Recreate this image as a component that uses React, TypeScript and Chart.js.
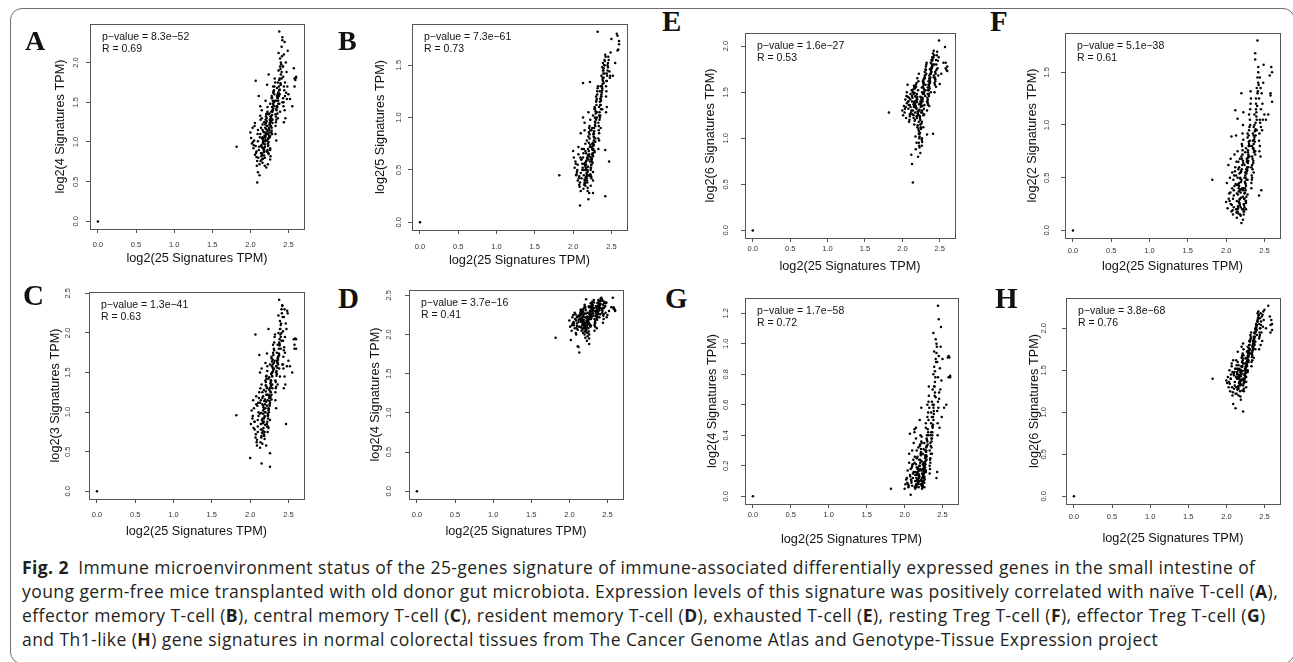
import React, { useEffect, useRef } from 'react';
import { Chart, registerables } from 'chart.js';

Chart.register(...registerables);

// Shared x values: log2(25 Signatures TPM), one per sample
const xValues = [
  0.0, 1.82,
  2.0, 2.02, 2.01, 2.04, 2.03, 2.06, 2.05, 2.07, 2.08, 2.06, 2.09, 2.08, 2.1, 2.07, 2.11, 2.09, 2.12, 2.1, 2.11, 2.13, 2.12, 2.1,
  2.14, 2.13, 2.15, 2.16, 2.14, 2.17, 2.15, 2.18, 2.16, 2.19, 2.17, 2.2, 2.18, 2.21, 2.19, 2.15, 2.2, 2.16, 2.22, 2.18, 2.21, 2.17, 2.19, 2.14, 2.2, 2.22, 2.16, 2.18, 2.21, 2.13, 2.19, 2.17, 2.2, 2.15, 2.22, 2.21,
  2.23, 2.24, 2.22, 2.25, 2.26, 2.23, 2.27, 2.24, 2.28, 2.25, 2.29, 2.26, 2.3, 2.27, 2.31, 2.28, 2.23, 2.29, 2.24, 2.3, 2.25, 2.31, 2.26, 2.32, 2.27, 2.22, 2.28, 2.24, 2.29, 2.26, 2.3, 2.23, 2.27, 2.31, 2.25, 2.28, 2.32, 2.26, 2.29, 2.24,
  2.33, 2.34, 2.35, 2.33, 2.36, 2.37, 2.34, 2.38, 2.35, 2.39, 2.36, 2.4, 2.37, 2.41, 2.38, 2.33, 2.39, 2.34, 2.4, 2.35, 2.42, 2.36, 2.38, 2.41, 2.37, 2.39, 2.34, 2.4, 2.36, 2.42, 2.38, 2.41,
  2.43, 2.44, 2.42, 2.45, 2.43, 2.46, 2.44, 2.47, 2.45, 2.48, 2.43, 2.49, 2.44, 2.5,
  2.52, 2.55, 2.57, 2.58, 2.58, 2.59, 2.6, 2.6,
  2.035, 2.075, 2.095, 2.055, 2.115, 2.085, 2.125, 2.045, 2.105, 2.135,
  2.155, 2.175, 2.195, 2.145, 2.215, 2.165, 2.185, 2.205, 2.135, 2.225, 2.175, 2.195, 2.155, 2.215, 2.165, 2.185, 2.205, 2.145, 2.225, 2.195, 2.175, 2.215, 2.155, 2.185, 2.205, 2.165, 2.225, 2.195,
  2.245, 2.265, 2.285, 2.235, 2.255, 2.275, 2.295, 2.315, 2.225, 2.305, 2.245, 2.265, 2.285, 2.255, 2.275, 2.235, 2.295, 2.315, 2.265, 2.285, 2.245, 2.305, 2.255, 2.275, 2.325, 2.235, 2.295, 2.265, 2.285, 2.255,
  2.345, 2.365, 2.385, 2.335, 2.355, 2.375, 2.395, 2.415, 2.345, 2.365, 2.385, 2.405, 2.355, 2.375, 2.335, 2.395, 2.365, 2.425, 2.385, 2.355,
  2.435, 2.455, 2.445, 2.465, 2.435, 2.475, 2.455, 2.485,
];

// A: naive T-cell, log2(4 Signatures TPM)
const yA = [
  0.0, 0.94,
  1.12, 0.98, 1.05, 0.92, 1.18, 0.84, 1.02, 0.95, 0.81, 1.24, 0.49, 0.88, 0.62, 1.77, 1.58, 0.76, 0.58, 1.15, 0.9, 1.33, 0.72, 1.01,
  0.95, 1.1, 0.78, 1.22, 0.86, 1.05, 1.3, 0.92, 1.15, 0.7, 1.02, 1.28, 0.83, 1.12, 0.97, 1.4, 1.08, 0.74, 1.2, 0.9, 1.35, 1.0, 0.8, 1.18, 1.52, 0.88, 1.06, 1.25, 0.68, 1.45, 0.94, 1.13, 1.03, 0.85, 1.72, 1.16,
  1.1, 1.35, 0.88, 1.22, 1.48, 0.95, 1.3, 1.05, 1.58, 1.15, 1.4, 0.78, 1.62, 1.26, 1.5, 1.18, 0.72, 1.38, 1.0, 1.7, 1.12, 1.45, 0.92, 1.8, 1.32, 1.02, 1.55, 0.85, 1.28, 1.08, 1.42, 0.98, 1.2, 1.65, 1.36, 1.14, 1.52, 0.9, 1.24, 1.85,
  1.35, 1.52, 1.68, 1.2, 1.75, 1.9, 1.42, 2.39, 1.58, 2.05, 1.3, 1.85, 1.62, 2.2, 1.48, 1.1, 1.95, 1.28, 1.72, 1.45, 2.32, 1.55, 1.65, 1.8, 2.12, 1.38, 1.02, 2.0, 1.6, 1.5, 1.78, 1.88,
  1.55, 1.7, 2.28, 1.4, 1.95, 1.3, 2.1, 1.62, 2.26, 1.54, 1.82, 2.15, 1.25, 1.6,
  1.54, 1.45, 1.93, 1.7, 1.8, 1.78, 1.82, 1.81,
  1.0, 0.86, 1.1, 1.2, 0.94, 0.7, 1.06, 0.96, 0.8, 1.28,
  1.04, 0.9, 1.18, 0.82, 1.26, 0.98, 1.08, 1.32, 0.76, 1.14, 0.92, 1.22, 0.84, 1.36, 1.0, 0.88, 1.1, 0.96, 1.44, 1.06, 0.87, 1.3, 0.93, 1.12, 1.24, 0.79, 1.38, 1.01,
  1.16, 1.32, 1.44, 0.96, 1.24, 1.38, 1.52, 1.6, 0.9, 1.46, 1.08, 1.2, 1.34, 1.28, 1.12, 1.04, 1.4, 1.7, 0.82, 1.56, 1.18, 1.64, 1.06, 1.3, 1.75, 0.86, 1.48, 1.26, 1.1, 1.22,
  1.45, 1.62, 1.8, 1.32, 1.56, 1.7, 1.92, 2.08, 1.4, 1.52, 1.66, 1.98, 1.36, 1.58, 1.25, 1.74, 1.48, 1.95, 1.6, 1.44,
  1.5, 1.75, 1.65, 2.0, 1.45, 1.88, 1.58, 1.7,
];

// B: effector memory T-cell, log2(5 Signatures TPM)
const yB = [
  0.0, 0.45,
  0.68, 0.52, 0.62, 0.45, 0.58, 0.4, 0.48, 0.65, 0.36, 0.55, 0.16, 0.44, 0.3, 0.72, 0.6, 0.38, 0.5, 0.85, 0.42, 1.33, 0.56, 0.47,
  0.5, 0.62, 0.38, 0.75, 0.45, 0.58, 0.88, 0.42, 0.68, 0.3, 0.55, 0.82, 0.4, 0.65, 0.48, 0.95, 0.6, 0.35, 0.72, 0.46, 0.9, 0.52, 0.33, 0.7, 1.05, 0.44, 0.57, 0.78, 0.28, 1.0, 0.5, 0.66, 0.22, 0.41, 1.34, 0.63,
  0.62, 0.88, 0.45, 0.75, 1.02, 0.52, 0.85, 0.6, 1.1, 0.7, 0.95, 0.4, 1.15, 0.78, 1.05, 0.68, 0.35, 0.92, 0.55, 1.2, 0.65, 1.0, 0.48, 1.28, 0.82, 0.58, 1.08, 0.42, 0.8, 0.63, 0.98, 0.5, 0.74, 1.18, 0.9, 0.67, 1.82, 0.28, 0.77, 0.6,
  0.95, 1.1, 1.25, 0.8, 1.3, 1.4, 1.02, 1.48, 1.15, 1.52, 0.9, 1.38, 1.2, 1.55, 1.08, 0.7, 1.45, 0.85, 1.33, 1.0, 0.25, 1.18, 1.28, 1.42, 1.22, 1.35, 0.78, 1.47, 1.12, 1.6, 1.26, 1.5,
  1.3, 1.42, 0.69, 1.5, 1.05, 1.58, 1.35, 0.58, 1.45, 1.38, 1.2, 1.62, 1.1, 1.75,
  1.4, 1.52, 1.8, 1.64, 1.78, 1.65, 1.73, 1.7,
  0.56, 0.42, 0.62, 0.5, 0.7, 0.34, 0.52, 0.46, 0.6, 0.66,
  0.54, 0.44, 0.7, 0.36, 0.8, 0.5, 0.62, 0.86, 0.32, 0.74, 0.47, 0.64, 0.4, 0.92, 0.52, 0.38, 0.68, 0.56, 0.98, 0.45, 0.59, 0.84, 0.37, 0.61, 0.76, 0.43, 0.88, 0.53,
  0.72, 0.84, 0.96, 0.55, 0.66, 0.9, 1.06, 1.22, 0.46, 1.12, 0.58, 0.76, 1.0, 0.64, 0.87, 0.52, 1.04, 1.25, 0.7, 0.93, 0.61, 1.16, 0.57, 0.81, 1.3, 0.44, 0.99, 0.73, 1.09, 0.69,
  1.05, 1.2, 1.36, 0.88, 1.12, 1.3, 1.45, 1.54, 0.98, 1.16, 1.32, 1.5, 1.02, 1.24, 0.92, 1.42, 1.08, 1.58, 1.38, 1.18,
  1.25, 1.48, 1.4, 1.55, 1.35, 1.44, 1.52, 1.4,
];

// C: central memory T-cell, log2(3 Signatures TPM)
const yC = [
  0.0, 0.96,
  0.42, 1.02, 0.85, 1.15, 0.92, 0.78, 1.05, 0.68, 1.2, 0.88, 0.58, 1.1, 0.75, 1.98, 0.95, 0.65, 1.25, 0.82, 1.0, 0.55, 1.72, 0.9,
  0.85, 1.12, 0.35, 1.25, 0.78, 1.02, 1.35, 0.92, 1.18, 0.66, 1.08, 1.4, 0.72, 1.22, 0.95, 1.55, 1.05, 0.6, 1.3, 0.88, 1.45, 0.98, 0.75, 1.15, 1.62, 0.82, 1.1, 1.28, 0.58, 1.5, 0.94, 1.2, 1.0, 0.7, 1.74, 1.13,
  1.15, 1.42, 0.85, 1.28, 1.6, 0.95, 1.38, 1.05, 1.7, 1.2, 1.5, 0.31, 1.75, 1.32, 1.62, 1.22, 0.75, 1.45, 1.02, 1.85, 1.18, 1.55, 0.9, 1.95, 1.4, 1.08, 1.68, 0.8, 1.35, 1.12, 1.52, 0.98, 1.25, 1.8, 1.44, 1.16, 1.65, 0.48, 1.3, 2.05,
  1.4, 1.58, 1.75, 1.25, 1.85, 2.0, 1.5, 2.42, 1.65, 2.15, 1.35, 1.95, 1.7, 2.3, 1.55, 1.15, 2.05, 1.32, 1.8, 1.48, 2.35, 1.62, 1.72, 1.9, 2.22, 1.45, 1.05, 2.1, 1.68, 1.6, 1.88, 2.0,
  1.6, 1.78, 2.34, 1.45, 2.02, 1.35, 2.2, 0.85, 2.3, 1.58, 1.9, 2.25, 1.3, 1.65,
  1.58, 1.5, 1.92, 1.8, 1.85, 1.93, 1.8, 1.92,
  0.95, 0.72, 1.08, 0.88, 1.18, 0.62, 0.98, 0.8, 1.12, 1.3,
  0.9, 0.76, 1.16, 0.68, 1.32, 0.86, 1.04, 1.38, 0.62, 1.22, 0.8, 1.1, 0.74, 1.46, 0.92, 0.7, 1.26, 0.99, 1.58, 0.84, 1.06, 1.42, 0.78, 1.14, 1.34, 0.88, 1.52, 1.0,
  1.22, 1.36, 1.58, 0.92, 1.14, 1.48, 1.66, 1.78, 0.88, 1.54, 1.04, 1.26, 1.46, 1.1, 1.4, 0.96, 1.6, 1.88, 1.18, 1.5, 1.0, 1.72, 1.08, 1.34, 1.98, 0.82, 1.56, 1.2, 1.64, 1.3,
  1.52, 1.7, 1.92, 1.38, 1.62, 1.8, 2.05, 2.25, 1.46, 1.66, 1.84, 2.12, 1.56, 1.74, 1.3, 1.98, 1.6, 2.2, 1.86, 1.64,
  1.7, 1.95, 1.82, 2.12, 1.55, 2.05, 1.75, 2.28,
];

// D: resident memory T-cell, log2(4 Signatures TPM)
const yD = [
  0.0, 1.96,
  2.18, 1.93, 2.1, 2.22, 2.05, 2.15, 2.25, 2.08, 2.2, 2.12, 2.0, 2.26, 2.14, 2.28, 1.85, 2.18, 1.84, 2.23, 2.06, 1.77, 2.16, 2.11,
  2.2, 2.1, 2.28, 2.05, 2.24, 2.15, 2.32, 2.02, 2.18, 2.26, 2.12, 2.35, 2.08, 2.22, 2.16, 2.3, 2.0, 2.21, 2.27, 2.13, 2.34, 2.06, 2.19, 2.25, 2.38, 2.09, 2.17, 2.29, 1.96, 2.23, 2.14, 2.31, 2.04, 2.2, 2.45, 2.11,
  2.15, 2.28, 2.05, 2.22, 2.35, 2.1, 2.3, 2.18, 2.4, 2.08, 2.25, 1.95, 2.38, 2.2, 2.32, 2.12, 1.92, 2.27, 2.02, 2.42, 2.16, 2.33, 2.0, 2.44, 2.24, 2.06, 2.36, 1.98, 2.21, 2.14, 2.31, 2.09, 2.26, 2.37, 2.19, 2.11, 2.34, 1.88, 2.23, 2.17,
  2.2, 2.3, 2.36, 2.12, 2.25, 2.4, 2.18, 2.44, 2.28, 2.33, 2.08, 2.38, 2.22, 2.46, 2.26, 2.05, 2.35, 2.15, 2.42, 2.24, 2.47, 2.3, 2.32, 2.39, 2.27, 2.43, 2.1, 2.37, 2.21, 2.45, 2.29, 2.34,
  2.28, 2.38, 2.45, 2.2, 2.32, 2.42, 2.15, 2.36, 2.26, 2.4, 2.44, 2.22, 2.34, 2.25,
  2.3, 2.35, 2.47, 2.35, 2.33, 2.33, 2.31, 2.3,
  2.12, 2.2, 2.08, 2.16, 2.24, 2.02, 2.19, 2.14, 2.22, 2.1,
  2.16, 2.24, 2.1, 2.28, 2.06, 2.2, 2.33, 2.13, 2.25, 2.18, 2.22, 2.08, 2.3, 2.15, 2.26, 2.12, 2.36, 2.19, 2.03, 2.27, 2.17, 2.31, 2.09, 2.23, 2.14, 2.29, 2.21, 2.11,
  2.18, 2.26, 2.34, 2.12, 2.21, 2.3, 2.38, 2.24, 2.07, 2.32, 2.15, 2.28, 2.2, 2.36, 2.1, 2.23, 2.4, 2.27, 2.13, 2.33, 2.19, 2.29, 2.04, 2.25, 2.41, 2.16, 2.35, 2.22, 2.3, 2.14,
  2.24, 2.32, 2.4, 2.16, 2.28, 2.36, 2.22, 2.43, 2.3, 2.19, 2.38, 2.26, 2.34, 2.41, 2.14, 2.31, 2.27, 2.45, 2.35, 2.23,
  2.3, 2.4, 2.24, 2.36, 2.43, 2.28, 2.34, 2.41,
];

// E: exhausted T-cell, log2(6 Signatures TPM)
const yE = [
  0.0, 1.28,
  1.3, 1.35, 1.25, 1.42, 1.28, 1.38, 1.22, 1.45, 1.32, 1.5, 1.18, 1.4, 1.26, 1.58, 1.34, 1.44, 0.82, 1.36, 1.48, 0.72, 1.3, 1.24,
  0.52, 1.4, 1.25, 1.55, 1.3, 1.2, 1.48, 1.35, 1.15, 1.6, 1.28, 1.42, 0.88, 1.52, 1.32, 1.22, 1.45, 1.38, 1.05, 1.58, 1.26, 1.36, 0.95, 1.5, 1.65, 1.18, 1.4, 1.33, 0.8, 1.46, 1.24, 1.54, 1.12, 1.37, 1.7, 1.29,
  1.3, 1.45, 0.95, 1.38, 1.55, 1.05, 1.42, 1.2, 1.62, 1.1, 1.5, 1.0, 1.68, 1.35, 1.58, 1.25, 0.9, 1.48, 1.15, 1.72, 1.28, 1.52, 0.98, 1.8, 1.4, 1.08, 1.6, 0.84, 1.32, 1.18, 1.65, 1.02, 1.44, 1.75, 1.36, 1.12, 1.7, 0.92, 1.26, 1.4,
  1.4, 1.55, 1.62, 1.3, 1.68, 1.75, 1.48, 1.82, 1.58, 1.85, 1.35, 1.78, 1.6, 1.92, 1.5, 1.04, 1.72, 1.42, 1.88, 1.52, 1.95, 1.65, 1.7, 1.8, 1.62, 1.76, 1.38, 1.84, 1.56, 1.68, 1.74, 1.05,
  1.6, 1.72, 1.66, 1.85, 1.5, 1.9, 1.64, 1.76, 1.56, 1.68, 1.8, 2.06, 1.62, 1.59,
  1.7, 1.82, 1.99, 1.76, 1.82, 1.74, 1.78, 1.73,
  1.32, 1.4, 1.2, 1.46, 1.28, 1.36, 1.52, 1.34, 1.42, 1.26,
  1.34, 1.46, 1.22, 1.5, 1.1, 1.38, 1.56, 1.27, 1.44, 1.31, 1.02, 1.48, 1.35, 1.62, 1.19, 1.41, 1.29, 1.53, 0.92, 1.39, 1.45, 1.25, 1.57, 1.33, 1.14, 1.49, 1.37, 1.43,
  1.34, 1.5, 1.6, 1.22, 1.4, 1.56, 1.66, 1.74, 1.0, 1.46, 1.12, 1.3, 1.54, 1.42, 1.62, 1.24, 1.36, 1.78, 0.96, 1.58, 1.38, 1.68, 1.16, 1.48, 1.82, 1.06, 1.52, 1.28, 1.64, 1.44,
  1.52, 1.64, 1.74, 1.44, 1.58, 1.7, 1.8, 1.88, 1.36, 1.6, 1.72, 1.86, 1.46, 1.66, 1.4, 1.78, 1.54, 1.9, 1.76, 1.48,
  1.66, 1.8, 1.7, 1.94, 1.58, 1.84, 1.74, 1.88,
];

// F: resting Treg T-cell, log2(2 Signatures TPM)
const yF = [
  0.0, 0.48,
  0.27, 0.21, 0.45, 0.35, 0.62, 0.25, 0.5, 0.18, 0.4, 0.68, 0.3, 0.55, 0.22, 0.89, 0.42, 0.15, 0.6, 0.33, 0.72, 0.2, 1.14, 0.38,
  0.28, 0.52, 0.18, 0.65, 0.35, 0.45, 0.75, 0.24, 0.58, 0.14, 0.42, 0.7, 0.3, 0.62, 0.22, 1.06, 0.48, 0.16, 0.66, 0.38, 0.8, 0.26, 0.55, 0.12, 1.3, 0.32, 0.44, 0.68, 0.2, 0.9, 0.36, 0.6, 0.07, 0.5, 1.0, 0.4,
  0.4, 0.62, 0.1, 0.55, 0.78, 0.25, 0.68, 0.35, 0.88, 0.45, 0.72, 0.2, 0.95, 0.58, 0.85, 0.48, 0.15, 0.7, 0.3, 1.1, 0.52, 0.8, 0.28, 1.32, 0.65, 0.38, 0.92, 0.22, 0.6, 0.42, 0.82, 0.18, 0.56, 1.05, 0.74, 0.34, 1.2, 0.26, 0.66, 0.5,
  0.6, 0.8, 0.92, 0.45, 0.98, 1.1, 0.7, 1.68, 0.85, 1.25, 0.55, 1.05, 0.88, 1.8, 0.75, 0.4, 1.15, 0.62, 0.95, 0.78, 1.4, 0.9, 1.62, 1.3, 1.0, 1.2, 0.5, 1.35, 0.82, 1.5, 0.72, 1.45,
  0.85, 1.05, 1.55, 0.7, 1.25, 0.38, 1.45, 0.95, 1.35, 1.05, 0.33, 1.57, 0.8, 1.1,
  1.05, 1.1, 1.47, 1.3, 1.28, 1.55, 1.22, 1.5,
  0.3, 0.24, 0.48, 0.36, 0.56, 0.19, 0.44, 0.28, 0.52, 0.65,
  0.34, 0.26, 0.56, 0.2, 0.72, 0.4, 0.5, 0.82, 0.17, 0.64, 0.29, 0.46, 0.23, 0.92, 0.37, 0.15, 0.58, 0.43, 1.12, 0.31, 0.54, 0.76, 0.21, 0.49, 0.68, 0.27, 0.86, 0.39,
  0.46, 0.58, 0.76, 0.3, 0.5, 0.66, 0.84, 1.0, 0.2, 0.7, 0.36, 0.54, 0.64, 0.44, 0.6, 0.24, 0.9, 1.15, 0.32, 0.74, 0.4, 0.98, 0.28, 0.57, 1.25, 0.18, 0.8, 0.48, 0.69, 0.38,
  0.68, 0.86, 1.02, 0.52, 0.78, 0.94, 1.12, 1.32, 0.58, 0.74, 0.9, 1.18, 0.64, 0.84, 0.48, 1.08, 0.76, 1.38, 0.96, 0.66,
  0.92, 1.15, 1.02, 1.3, 0.75, 1.2, 0.98, 1.4,
];

// G: effector Treg T-cell, log2(4 Signatures TPM)
const yG = [
  0.0, 0.05,
  0.05, 0.11, 0.08, 0.17, 0.12, 0.22, 0.06, 0.14, 0.01, 0.28, 0.1, 0.18, 0.07, 0.41, 0.15, 0.09, 0.35, 0.2, 0.12, 0.42, 0.16, 0.3,
  0.1, 0.22, 0.06, 0.3, 0.14, 0.18, 0.38, 0.08, 0.25, 0.12, 0.16, 0.33, 0.09, 0.28, 0.13, 0.45, 0.2, 0.07, 0.36, 0.15, 0.4, 0.11, 0.24, 0.05, 0.5, 0.17, 0.19, 0.32, 0.08, 0.44, 0.14, 0.26, 0.1, 0.21, 0.58, 0.18,
  0.15, 0.28, 0.08, 0.22, 0.35, 0.12, 0.3, 0.18, 0.45, 0.1, 0.38, 0.06, 0.52, 0.25, 0.42, 0.16, 0.05, 0.33, 0.14, 0.6, 0.2, 0.4, 0.09, 0.72, 0.27, 0.11, 0.48, 0.07, 0.24, 0.13, 0.36, 0.1, 0.19, 0.55, 0.31, 0.17, 0.66, 0.12, 0.26, 0.21,
  0.3, 0.4, 0.55, 0.2, 0.62, 0.7, 0.35, 0.8, 0.48, 0.95, 0.28, 0.75, 0.45, 1.03, 0.58, 0.15, 0.85, 0.25, 0.68, 0.42, 1.0, 0.52, 1.07, 0.9, 0.6, 0.72, 0.22, 0.82, 0.38, 0.94, 0.5, 0.65,
  0.56, 0.78, 0.12, 1.16, 0.88, 0.45, 1.25, 0.7, 0.92, 1.11, 0.16, 0.52, 0.62, 0.9,
  0.58, 0.6, 0.91, 0.78, 0.92, 0.91, 0.79, 0.78,
  0.09, 0.13, 0.19, 0.07, 0.24, 0.11, 0.16, 0.08, 0.21, 0.26,
  0.12, 0.09, 0.2, 0.07, 0.27, 0.15, 0.18, 0.34, 0.06, 0.23, 0.11, 0.17, 0.08, 0.31, 0.14, 0.06, 0.22, 0.16, 0.39, 0.1, 0.19, 0.29, 0.08, 0.17, 0.24, 0.1, 0.35, 0.13,
  0.17, 0.22, 0.32, 0.09, 0.19, 0.26, 0.4, 0.5, 0.07, 0.34, 0.13, 0.2, 0.29, 0.15, 0.23, 0.08, 0.37, 0.62, 0.11, 0.3, 0.14, 0.44, 0.12, 0.21, 0.58, 0.06, 0.33, 0.18, 0.27, 0.16,
  0.33, 0.46, 0.6, 0.24, 0.38, 0.52, 0.72, 0.88, 0.28, 0.42, 0.56, 0.78, 0.32, 0.47, 0.18, 0.66, 0.4, 0.98, 0.54, 0.36,
  0.48, 0.68, 0.58, 0.84, 0.4, 0.98, 0.64, 0.76,
];

// H: Th1-like, log2(6 Signatures TPM)
const yH = [
  0.0, 1.4,
  1.38, 1.42, 1.35, 1.5, 1.3, 1.45, 1.25, 1.55, 1.2, 1.4, 1.1, 1.48, 1.28, 1.58, 1.36, 1.62, 1.05, 1.44, 1.32, 1.52, 1.22, 1.47,
  1.4, 1.3, 1.52, 1.2, 1.45, 1.35, 1.6, 1.25, 1.5, 1.15, 1.42, 1.65, 1.32, 1.55, 1.38, 1.72, 1.46, 1.28, 1.58, 1.36, 1.68, 1.44, 1.33, 1.48, 1.78, 1.4, 1.56, 1.34, 1.26, 1.62, 1.43, 1.52, 1.38, 1.3, 1.82, 1.49,
  1.35, 1.5, 1.01, 1.58, 1.65, 1.38, 1.72, 1.45, 1.78, 1.42, 1.68, 1.3, 1.85, 1.55, 1.75, 1.48, 1.25, 1.62, 1.4, 1.8, 1.52, 1.7, 1.36, 1.9, 1.58, 1.32, 1.73, 1.44, 1.6, 1.47, 1.76, 1.28, 1.56, 1.84, 1.64, 1.5, 1.88, 1.42, 1.66, 1.46,
  1.7, 1.78, 1.85, 1.6, 1.9, 1.95, 1.72, 2.0, 1.82, 2.05, 1.65, 1.98, 1.8, 2.1, 1.75, 1.55, 2.02, 1.68, 1.92, 1.76, 2.15, 1.88, 1.84, 2.08, 1.94, 2.0, 1.62, 2.04, 1.86, 2.12, 1.96, 2.18,
  1.88, 2.0, 2.2, 1.8, 2.05, 1.95, 2.12, 1.85, 2.18, 2.02, 1.75, 2.1, 1.92, 2.22,
  2.0, 2.27, 2.14, 1.95, 2.04, 2.1, 1.98, 2.05,
  1.36, 1.3, 1.46, 1.4, 1.52, 1.24, 1.42, 1.34, 1.48, 1.56,
  1.42, 1.34, 1.55, 1.27, 1.62, 1.4, 1.48, 1.66, 1.22, 1.58, 1.37, 1.5, 1.31, 1.7, 1.44, 1.19, 1.54, 1.46, 1.75, 1.39, 1.51, 1.64, 1.29, 1.47, 1.6, 1.35, 1.68, 1.45,
  1.52, 1.6, 1.7, 1.4, 1.55, 1.64, 1.76, 1.86, 1.34, 1.74, 1.46, 1.58, 1.68, 1.5, 1.62, 1.38, 1.72, 1.92, 1.48, 1.66, 1.44, 1.8, 1.53, 1.61, 1.95, 1.36, 1.71, 1.57, 1.67, 1.49,
  1.8, 1.88, 1.98, 1.7, 1.84, 1.94, 2.04, 2.12, 1.74, 1.86, 1.96, 2.08, 1.78, 1.9, 1.66, 2.02, 1.82, 2.16, 1.99, 1.76,
  1.95, 2.08, 2.0, 2.14, 1.9, 2.16, 2.04, 2.2,
];

const xTicks = [0, 0.5, 1.0, 1.5, 2.0, 2.5];
const yTicksA = [0, 0.5, 1.0, 1.5, 2.0];
const yTicksB = [0, 0.5, 1.0, 1.5];
const yTicksC = [0, 0.5, 1.0, 1.5, 2.0, 2.5];
const yTicksD = [0, 0.5, 1.0, 1.5, 2.0, 2.5];
const yTicksE = [0, 0.5, 1.0, 1.5, 2.0];
const yTicksF = [0, 0.5, 1.0, 1.5];
const yTicksG = [0, 0.2, 0.4, 0.6, 0.8, 1.0, 1.2];
const yTicksH = [0, 0.5, 1.0, 1.5, 2.0];

const xTitle = 'log2(25 Signatures TPM)';

type PanelDef = {
  letter: string;
  ys: number[];
  yTicks: number[];
  yTitle: string;
  pval: string;
  r: string;
  box: [number, number, number, number];
  yTickOff: number;
  yTitleOff: number;
  xTickOff: number;
  xTitleOff: number;
  letterX: number;
  letterBase: number;
  letterSize: number;
};

const panels: PanelDef[] = [
  { letter: 'A', ys: yA, yTicks: yTicksA, yTitle: 'log2(4 Signatures TPM)', pval: '8.3e\u221252', r: '0.69', box: [90, 24, 304, 229], yTickOff: 14, yTitleOff: 30, xTickOff: 15.5, xTitleOff: 29, letterX: 25, letterBase: 50, letterSize: 28 },
  { letter: 'B', ys: yB, yTicks: yTicksB, yTitle: 'log2(5 Signatures TPM)', pval: '7.3e\u221261', r: '0.73', box: [412, 24, 627, 230], yTickOff: 13, yTitleOff: 32, xTickOff: 16.5, xTitleOff: 30, letterX: 338, letterBase: 50, letterSize: 28 },
  { letter: 'C', ys: yC, yTicks: yTicksC, yTitle: 'log2(3 Signatures TPM)', pval: '1.3e\u221241', r: '0.63', box: [89, 292, 304, 499], yTickOff: 21, yTitleOff: 34, xTickOff: 15.5, xTitleOff: 32.5, letterX: 23, letterBase: 305, letterSize: 29 },
  { letter: 'D', ys: yD, yTicks: yTicksD, yTitle: 'log2(4 Signatures TPM)', pval: '3.7e\u221216', r: '0.41', box: [409, 290, 623, 499], yTickOff: 20, yTitleOff: 34, xTickOff: 15.5, xTitleOff: 32.5, letterX: 338, letterBase: 308, letterSize: 29 },
  { letter: 'E', ys: yE, yTicks: yTicksE, yTitle: 'log2(6 Signatures TPM)', pval: '1.6e\u221227', r: '0.53', box: [745, 33, 955, 238], yTickOff: 19, yTitleOff: 35, xTickOff: 10.5, xTitleOff: 28, letterX: 662, letterBase: 31, letterSize: 29 },
  { letter: 'F', ys: yF, yTicks: yTicksF, yTitle: 'log2(2 Signatures TPM)', pval: '5.1e\u221238', r: '0.61', box: [1065, 33, 1280, 238], yTickOff: 18, yTitleOff: 33, xTickOff: 13, xTitleOff: 28, letterX: 990, letterBase: 31, letterSize: 29 },
  { letter: 'G', ys: yG, yTicks: yTicksG, yTitle: 'log2(4 Signatures TPM)', pval: '1.7e\u221258', r: '0.72', box: [745, 298, 958, 504], yTickOff: 19, yTitleOff: 33, xTickOff: 10.5, xTitleOff: 35, letterX: 665, letterBase: 308, letterSize: 29 },
  { letter: 'H', ys: yH, yTicks: yTicksH, yTitle: 'log2(6 Signatures TPM)', pval: '3.8e\u221268', r: '0.76', box: [1066, 298, 1280, 504], yTickOff: 22, yTitleOff: 32, xTickOff: 13, xTitleOff: 34, letterX: 995, letterBase: 308, letterSize: 29 },
];

const YW = 50;
const XH = 46;
const PT = 4;
const PR = 8;
const PLOT_FONT = '"Liberation Sans", Arial, Helvetica, sans-serif';

function ScatterPanel({ p }: { p: PanelDef }) {
  const ref = useRef<HTMLCanvasElement>(null);
  useEffect(() => {
    if (!ref.current) return;
    const points = xValues
      .map((x, i) => ({ x, y: p.ys[i] }))
      .filter((d) => typeof d.y === 'number');
    const xMaxData = Math.max(...xValues);
    const yMaxData = Math.max(...p.ys);
    const rBase = {
      id: 'rBase',
      afterDraw(chart: any) {
        const ctx = chart.ctx as CanvasRenderingContext2D;
        const a = chart.chartArea;
        const xs = chart.scales.x;
        const ysc = chart.scales.y;
        ctx.save();
        ctx.strokeStyle = '#555';
        ctx.lineWidth = 1;
        ctx.strokeRect(Math.round(a.left) + 0.5, Math.round(a.top) + 0.5, Math.round(a.right - a.left), Math.round(a.bottom - a.top));
        ctx.fillStyle = '#333';
        ctx.font = `7.5px ${PLOT_FONT}`;
        ctx.textAlign = 'center';
        ctx.textBaseline = 'middle';
        xTicks.forEach((v) => {
          ctx.fillText(v.toFixed(1), xs.getPixelForValue(v), a.bottom + p.xTickOff);
        });
        p.yTicks.forEach((v) => {
          ctx.save();
          ctx.translate(a.left - p.yTickOff, ysc.getPixelForValue(v));
          ctx.rotate(-Math.PI / 2);
          ctx.fillText(v.toFixed(1), 0, 0);
          ctx.restore();
        });
        ctx.fillStyle = '#111';
        ctx.font = `12.7px ${PLOT_FONT}`;
        ctx.fillText(xTitle, (a.left + a.right) / 2, a.bottom + p.xTitleOff);
        ctx.save();
        ctx.translate(a.left - p.yTitleOff, (a.top + a.bottom) / 2);
        ctx.rotate(-Math.PI / 2);
        ctx.fillText(p.yTitle, 0, 0);
        ctx.restore();
        ctx.font = `10.5px ${PLOT_FONT}`;
        ctx.textAlign = 'left';
        ctx.fillText(`p\u2212value = ${p.pval}`, a.left + 12, a.top + 13);
        ctx.fillText(`R = ${p.r}`, a.left + 12, a.top + 25);
        ctx.restore();
      },
    };
    const chart = new Chart(ref.current, {
      type: 'scatter',
      data: {
        datasets: [
          {
            data: points,
            pointRadius: 1.25,
            pointBackgroundColor: '#000',
            pointBorderColor: '#000',
            pointBorderWidth: 0,
            pointHoverRadius: 1.25,
            showLine: false,
          },
        ],
      },
      options: {
        animation: false,
        responsive: false,
        maintainAspectRatio: false,
        events: [],
        layout: { padding: { left: 0, top: PT, right: PR, bottom: 0 } },
        plugins: { legend: { display: false }, tooltip: { enabled: false }, title: { display: false } },
        scales: {
          x: {
            type: 'linear',
            position: 'bottom',
            min: -0.04 * xMaxData,
            max: 1.04 * xMaxData,
            afterFit: (s: any) => {
              s.height = XH;
            },
            afterBuildTicks: (s: any) => {
              s.ticks = xTicks.map((v) => ({ value: v }));
            },
            ticks: { display: false },
            grid: { display: true, drawOnChartArea: false, drawTicks: true, tickLength: 4, color: '#555', lineWidth: 1 },
            border: { display: false },
          },
          y: {
            type: 'linear',
            position: 'left',
            min: -0.04 * yMaxData,
            max: 1.04 * yMaxData,
            afterFit: (s: any) => {
              s.width = YW;
            },
            afterBuildTicks: (s: any) => {
              s.ticks = p.yTicks.map((v) => ({ value: v }));
            },
            ticks: { display: false },
            grid: { display: true, drawOnChartArea: false, drawTicks: true, tickLength: 4, color: '#555', lineWidth: 1 },
            border: { display: false },
          },
        },
      },
      plugins: [rBase],
    });
    return () => chart.destroy();
  }, [p]);
  const [l, t, r, b] = p.box;
  return (
    <canvas
      ref={ref}
      width={YW + (r - l) + PR}
      height={PT + (b - t) + XH}
      style={{ position: 'absolute', left: l - YW, top: t - PT }}
    />
  );
}

function PanelLetter({ p }: { p: PanelDef }) {
  return (
    <div
      style={{
        position: 'absolute',
        left: p.letterX,
        top: p.letterBase - 0.8375 * p.letterSize,
        fontFamily: '"Liberation Serif", "Times New Roman", serif',
        fontWeight: 'bold',
        fontSize: p.letterSize,
        lineHeight: 1,
        color: '#111',
      }}
    >
      {p.letter}
    </div>
  );
}

export default function App() {
  return (
    <div
      style={{
        position: 'absolute',
        left: 0,
        top: 0,
        width: 1293,
        height: 662,
        overflow: 'hidden',
        background: '#fff',
      }}
    >
      <div
        style={{
          position: 'absolute',
          left: 10,
          top: 8,
          width: 1285,
          height: 656,
          boxSizing: 'border-box',
          border: '1.5px solid #707070',
          borderRadius: 12,
        }}
      />
      {panels.map((p) => (
        <ScatterPanel key={p.letter} p={p} />
      ))}
      {panels.map((p) => (
        <PanelLetter key={'L' + p.letter} p={p} />
      ))}
      <div
        style={{
          position: 'absolute',
          left: 22,
          top: 555,
          fontFamily: '"Open Sans", "Noto Sans", sans-serif',
          fontSize: 17.5,
          letterSpacing: '0.43px',
          lineHeight: '24px',
          color: '#231f20',
          whiteSpace: 'nowrap',
        }}
      >
        <div>
          <b>Fig. 2</b>
          {'\u2002'}Immune microenvironment status of the 25-genes signature of immune-associated differentially expressed genes in the small intestine of
        </div>
        <div>
          young germ-free mice transplanted with old donor gut microbiota. Expression levels of this signature was positively correlated with naïve T-cell (<b>A</b>),
        </div>
        <div>
          effector memory T-cell (<b>B</b>), central memory T-cell (<b>C</b>), resident memory T-cell (<b>D</b>), exhausted T-cell (<b>E</b>), resting Treg T-cell (<b>F</b>), effector Treg T-cell (<b>G</b>)
        </div>
        <div>
          and Th1-like (<b>H</b>) gene signatures in normal colorectal tissues from The Cancer Genome Atlas and Genotype-Tissue Expression project
        </div>
      </div>
    </div>
  );
}
